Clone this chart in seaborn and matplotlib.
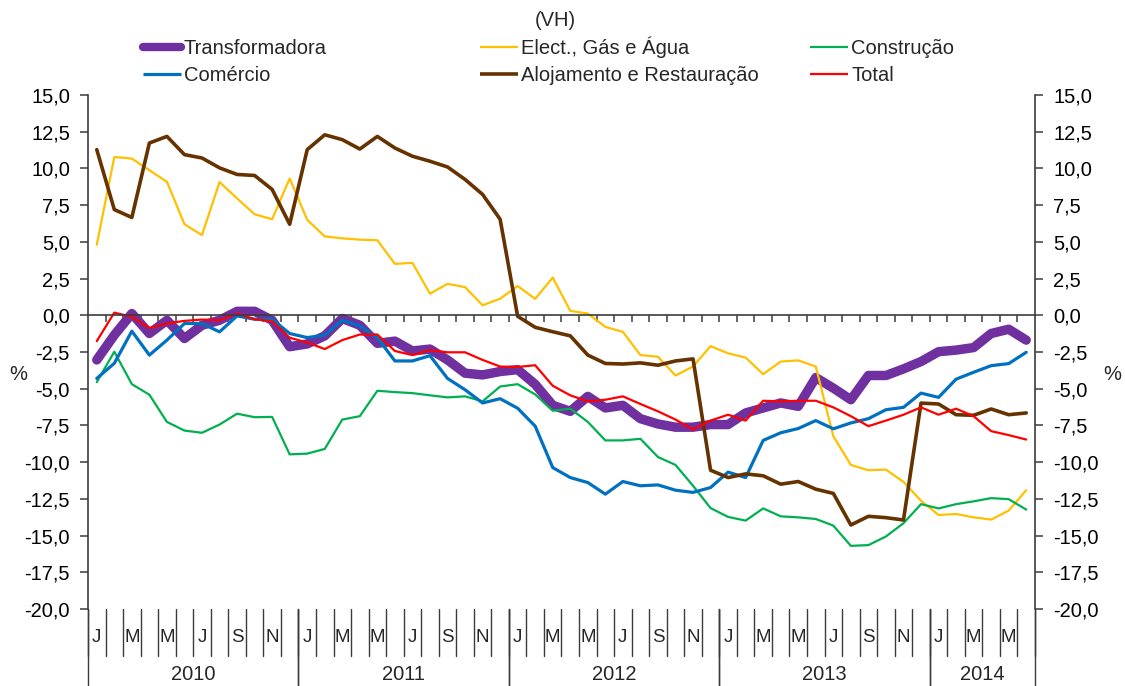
import numpy as np
import pandas as pd
import matplotlib
matplotlib.use("Agg")
import matplotlib.pyplot as plt
import matplotlib.transforms as mtransforms
from matplotlib.ticker import FuncFormatter, FixedLocator
from matplotlib.lines import Line2D
import seaborn as sns

# ---------------- data ----------------
month_letters = ['J', '', 'M', '', 'M', '', 'J', '', 'S', '', 'N', '']
years = ['2010', '2011', '2012', '2013', '2014']
months_per_year = [12, 12, 12, 12, 6]

transformadora = [-3.04, -1.35, 0.12, -1.24, -0.34, -1.58, -0.68, -0.34, 0.27, 0.27, -0.34, -2.14,
                  -1.95, -1.4, -0.22, -0.68, -1.91, -1.76, -2.43, -2.3, -3.04, -3.94, -4.06, -3.83,
                  -3.7, -4.7, -6.13, -6.54, -5.52, -6.31, -6.13, -7.04, -7.4, -7.62, -7.62, -7.44,
                  -7.44, -6.65, -6.31, -5.97, -6.2, -4.24, -4.96, -5.75, -4.1, -4.1, -3.65, -3.15,
                  -2.48, -2.37, -2.2, -1.24, -0.95, -1.69]
comercio = [-4.3, -3.27, -1.08, -2.71, -1.69, -0.56, -0.56, -1.13, -0.04, -0.27, -0.27, -1.24,
            -1.52, -1.35, -0.34, -0.72, -1.53, -3.11, -3.11, -2.75, -4.3, -5.07, -5.97, -5.68,
            -6.33, -7.55, -10.37, -11.05, -11.39, -12.18, -11.32, -11.61, -11.55, -11.91, -12.06, -11.73,
            -10.68, -11.05, -8.52, -8.0, -7.71, -7.17, -7.73, -7.33, -7.04, -6.43, -6.27, -5.3,
            -5.59, -4.35, -3.88, -3.43, -3.29, -2.52]
elect_gas_agua = [4.8, 10.78, 10.67, 9.88, 9.09, 6.2, 5.46, 9.07, 7.96, 6.88, 6.54, 9.32,
                  6.5, 5.37, 5.24, 5.15, 5.11, 3.5, 3.57, 1.47, 2.14, 1.92, 0.68, 1.13,
                  1.99, 1.12, 2.57, 0.3, 0.12, -0.79, -1.13, -2.71, -2.82, -4.1, -3.49, -2.1,
                  -2.59, -2.88, -4.01, -3.15, -3.07, -3.49, -8.23, -10.19, -10.55, -10.51, -11.34, -12.63,
                  -13.6, -13.53, -13.76, -13.91, -13.3, -11.91]
alojamento = [11.28, 7.2, 6.66, 11.73, 12.18, 10.94, 10.71, 10.04, 9.59, 9.52, 8.57, 6.2,
              11.28, 12.29, 11.96, 11.32, 12.18, 11.39, 10.83, 10.49, 10.1, 9.25, 8.23, 6.54,
              -0.07, -0.82, -1.12, -1.4, -2.71, -3.28, -3.32, -3.24, -3.4, -3.11, -2.97, -10.55,
              -11.05, -10.8, -10.93, -11.5, -11.32, -11.84, -12.13, -14.28, -13.69, -13.78, -13.94, -5.98,
              -6.04, -6.77, -6.81, -6.38, -6.77, -6.65]
construcao = [-4.55, -2.48, -4.69, -5.41, -7.26, -7.85, -8.0, -7.44, -6.7, -6.94, -6.92, -9.47,
              -9.42, -9.1, -7.1, -6.87, -5.14, -5.23, -5.3, -5.45, -5.59, -5.52, -5.86, -4.85,
              -4.69, -5.39, -6.5, -6.36, -7.26, -8.52, -8.52, -8.41, -9.65, -10.19, -11.61, -13.13,
              -13.73, -13.98, -13.15, -13.69, -13.76, -13.87, -14.32, -15.7, -15.65, -15.06, -14.16, -12.86,
              -13.15, -12.86, -12.67, -12.45, -12.52, -13.23]
total = [-1.76, 0.18, -0.11, -0.86, -0.56, -0.38, -0.29, -0.34, 0.12, -0.27, -0.41, -1.53,
         -1.85, -2.3, -1.69, -1.31, -1.31, -2.43, -2.71, -2.37, -2.52, -2.52, -3.04, -3.49,
         -3.52, -3.4, -4.8, -5.45, -5.86, -5.75, -5.52, -6.04, -6.54, -7.1, -7.78, -7.17,
         -6.77, -7.17, -5.82, -5.86, -5.82, -5.82, -6.27, -6.87, -7.55, -7.17, -6.77, -6.27,
         -6.77, -6.36, -6.87, -7.89, -8.16, -8.46]

series_names = ['Transformadora', 'Elect., Gás e Água', 'Construção',
                'Comércio', 'Alojamento e Restauração', 'Total']
series_values = [transformadora, elect_gas_agua, construcao, comercio, alojamento, total]

# ---------------- style ----------------
sns.set_theme(style="white")
plt.rcParams['font.family'] = ['Liberation Sans', 'DejaVu Sans']
FS = 14.5
AX_COL = '#3c3c3c'

colors = {'Transformadora': '#7030A0', 'Elect., Gás e Água': '#FFC000', 'Construção': '#00B050',
          'Comércio': '#0070C0', 'Alojamento e Restauração': '#663300', 'Total': '#FF0000'}
widths = {'Transformadora': 6.8, 'Elect., Gás e Água': 1.6, 'Construção': 1.6,
          'Comércio': 2.3, 'Alojamento e Restauração': 2.6, 'Total': 1.6}

n = len(transformadora)
x = np.arange(n)
frames = []
for name, vals in zip(series_names, series_values):
    frames.append(pd.DataFrame({'idx': x, 'valor': vals, 'serie': name}))
df = pd.concat(frames, ignore_index=True)

W, H = 1125, 686
fig = plt.figure(figsize=(W / 100, H / 100), dpi=100)
left_px, right_px, top_px, bot_px = 88, 1035, 95, 609
ax = fig.add_axes([left_px / W, 1 - bot_px / H, (right_px - left_px) / W, (bot_px - top_px) / H])

for name in series_names:
    sub = df[df['serie'] == name]
    sns.lineplot(data=sub, x='idx', y='valor', ax=ax, color=colors[name],
                 linewidth=widths[name], solid_capstyle='round', solid_joinstyle='round',
                 legend=False)

ax.set_xlim(-0.5, n - 0.5)
ax.set_ylim(-20, 15)
ax.set_xlabel('')
ax.set_ylabel('')
ax.grid(False)

# axes styling
ax.spines['top'].set_visible(False)
ax.spines['bottom'].set_position(('data', 0))
for s in ['left', 'right', 'bottom']:
    ax.spines[s].set_color(AX_COL)
    ax.spines[s].set_linewidth(1.2)

ax.yaxis.set_major_locator(FixedLocator(np.arange(-20, 15.1, 2.5)))
ax.yaxis.set_major_formatter(FuncFormatter(lambda v, p: f"{v:.1f}".replace('.', ',')))
ax.tick_params(axis='y', which='both', direction='out', length=6, width=1.1, color=AX_COL,
               labelsize=FS, left=True, right=True, labelleft=True, labelright=True, pad=7)
ax.xaxis.set_major_locator(FixedLocator(np.arange(0.5, n - 1, 1.0)))
ax.tick_params(axis='x', which='both', direction='out', length=5, width=1.1, color=AX_COL,
               bottom=True, labelbottom=False)
for lab in ax.get_yticklabels():
    lab.set_color('black')

# category axis (months / years) drawn below plot
trans = mtransforms.blended_transform_factory(ax.transData, ax.transAxes)
ah = bot_px - top_px
for i in range(n + 1):
    bx = i - 0.5
    ax.plot([bx, bx], [0, -47 / ah], transform=trans, color=AX_COL, lw=1.0, clip_on=False)
for i in range(n):
    lab = month_letters[i % 12]
    if lab:
        ax.text(i, -29 / ah, lab, transform=trans, ha='center', va='center', fontsize=FS - 1)
start = 0
for yr, cnt in zip(years, months_per_year):
    for bx in (start - 0.5, start + cnt - 0.5):
        ax.plot([bx, bx], [0, -(H - bot_px) / ah], transform=trans, color=AX_COL, lw=1.0, clip_on=False)
    ax.text(start + (cnt - 1) / 2, -66 / ah, yr, transform=trans, ha='center', va='center', fontsize=FS)
    start += cnt

# % labels
fig.text(18 / W, 1 - 375 / H, '%', ha='center', va='center', fontsize=FS)
fig.text(1112 / W, 1 - 375 / H, '%', ha='center', va='center', fontsize=FS)
fig.text(555 / W, 1 - 20 / H, '(VH)', ha='center', va='center', fontsize=FS)

# legend: three columns of two rows, equal column widths (as in the original)
cols = [['Transformadora', 'Comércio'],
        ['Elect., Gás e Água', 'Alojamento e Restauração'],
        ['Construção', 'Total']]
col_x = [143, 480, 810]
row_y = [47, 74]
handle_len = 38
for cx, names in zip(col_x, cols):
    for ry, nm in zip(row_y, names):
        yf = 1 - ry / H
        lw = 6.0 if nm == 'Transformadora' else widths[nm]
        fig.add_artist(Line2D([cx / W, (cx + handle_len) / W], [yf, yf], transform=fig.transFigure,
                              color=colors[nm], lw=lw, solid_capstyle='round' if nm == 'Transformadora' else 'butt'))
        fig.text((cx + handle_len + 3) / W, 1 - (ry + 7) / H, nm, ha='left', va='baseline', fontsize=FS)

fig.savefig('out.png', dpi=100)
